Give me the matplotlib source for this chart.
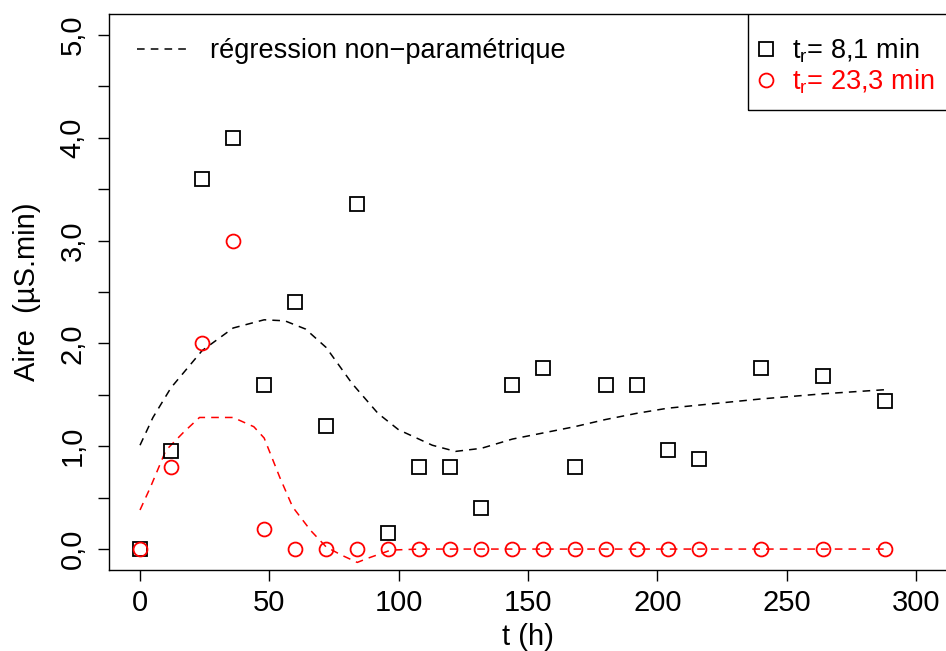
import matplotlib
matplotlib.use("Agg")
import matplotlib.pyplot as plt
from matplotlib.lines import Line2D
from matplotlib.patches import Rectangle

plt.rcParams['font.family'] = ['Liberation Sans', 'DejaVu Sans']
plt.rcParams['mathtext.fontset'] = 'custom'
plt.rcParams['mathtext.rm'] = 'Liberation Sans'
plt.rcParams['mathtext.it'] = 'Liberation Sans:italic'

# ---- data ----
t_hours = [0, 12, 24, 36, 48, 60, 72, 84, 96, 108, 120, 132, 144, 156, 168,
           180, 192, 204, 216, 240, 264, 288]
aire_8_1 = [0.0, 0.95, 3.6, 4.0, 1.6, 2.4, 1.2, 3.36, 0.16, 0.8, 0.8, 0.4, 1.6,
            1.76, 0.8, 1.6, 1.6, 0.96, 0.88, 1.76, 1.68, 1.44]
aire_23_3 = [0.0, 0.8, 2.0, 3.0, 0.2, 0.0, 0.0, 0.0, 0.0, 0.0, 0.0, 0.0, 0.0,
             0.0, 0.0, 0.0, 0.0, 0.0, 0.0, 0.0, 0.0, 0.0]

loess_x_black = [0, 5, 12, 24, 36, 48, 56, 64, 72, 82, 92, 100, 113, 122, 132,
                 144, 156, 168, 180, 192, 204, 216, 240, 264, 288]
loess_y_black = [1.01, 1.28, 1.57, 1.93, 2.15, 2.23, 2.22, 2.14, 1.96, 1.61,
                 1.32, 1.16, 1.01, 0.95, 0.98, 1.07, 1.13, 1.19, 1.26, 1.32,
                 1.37, 1.40, 1.46, 1.51, 1.55]
loess_x_red = [0, 4, 10, 17, 23, 36, 44, 48, 54, 59, 66, 72, 78, 84, 88, 97,
               108, 150, 200, 250, 288]
loess_y_red = [0.38, 0.60, 0.96, 1.14, 1.28, 1.28, 1.19, 1.08, 0.70, 0.41,
               0.18, 0.02, -0.06, -0.13, -0.09, -0.01, 0.0, 0.0, 0.0, 0.0, 0.0]

x_ticks = [0, 50, 100, 150, 200, 250, 300]
y_ticks = [0, 0.5, 1, 1.5, 2, 2.5, 3, 3.5, 4, 4.5, 5]
y_ticklabels = ['0,0', '', '1,0', '', '2,0', '', '3,0', '', '4,0', '', '5,0']

legend_black = r'$\mathrm{t_r}$= 8,1 min'
legend_red = r'$\mathrm{t_r}$= 23,3 min'
legend_reg = 'régression non\u2212paramétrique'

# ---- figure ----
fig = plt.figure(figsize=(9.46, 6.51), dpi=100)
ax = fig.add_axes([0.1152, 0.125, 0.8858, 0.8528])

dash = (0, (5, 4))
ax.plot(loess_x_black, loess_y_black, color='black', lw=1.1, ls=dash)
ax.plot(loess_x_red, loess_y_red, color='red', lw=1.1, ls=dash)

ax.plot(t_hours, aire_8_1, ls='none', marker='s', ms=10, mfc='none',
        mec='black', mew=1.3)
ax.plot(t_hours, aire_23_3, ls='none', marker='o', ms=10, mfc='none',
        mec='red', mew=1.3)

ax.set_xlim(-12, 312)
ax.set_ylim(-0.2, 5.2)
ax.set_xticks(x_ticks)
ax.set_xticklabels([str(v) for v in x_ticks])
ax.set_yticks(y_ticks)
ax.set_yticklabels(y_ticklabels, rotation=90, va='center')
ax.tick_params(axis='both', direction='out', length=8, width=1.0,
               labelsize=21, pad=6)
ax.tick_params(axis='y', pad=8)
for s in ax.spines.values():
    s.set_linewidth(1.0)

ax.set_xlabel('t (h)', fontsize=21, labelpad=4)
ax.set_ylabel('Aire  (\u00b5S.min)', fontsize=21, labelpad=13)

# legend for regression
h_reg = Line2D([], [], color='black', lw=1.1, ls=dash)
leg1 = ax.legend([h_reg], [legend_reg], loc='upper left', frameon=False,
                 fontsize=19.5, handlelength=1.85, handletextpad=0.85,
                 bbox_to_anchor=(0.02, 0.977), borderaxespad=0)
ax.add_artist(leg1)

# legend for the two series (box drawn separately)
ax.add_patch(Rectangle((0.7625, 0.8278), 0.26, 0.2, transform=ax.transAxes,
                       fill=False, edgecolor='black', lw=1.0, clip_on=True,
                       zorder=5))
h_b = Line2D([], [], ls='none', marker='s', ms=10, mfc='none', mec='black', mew=1.3)
h_r = Line2D([], [], ls='none', marker='o', ms=10, mfc='none', mec='red', mew=1.3)
leg2 = ax.legend([h_b, h_r], [legend_black, legend_red], loc='upper left',
                 bbox_to_anchor=(0.771, 0.960),
                 fontsize=19.5, frameon=False, borderaxespad=0,
                 handlelength=0.8, handletextpad=0.58, labelspacing=0.08,
                 borderpad=0, labelcolor=['black', 'red'])

fig.savefig('out.png', dpi=100)
